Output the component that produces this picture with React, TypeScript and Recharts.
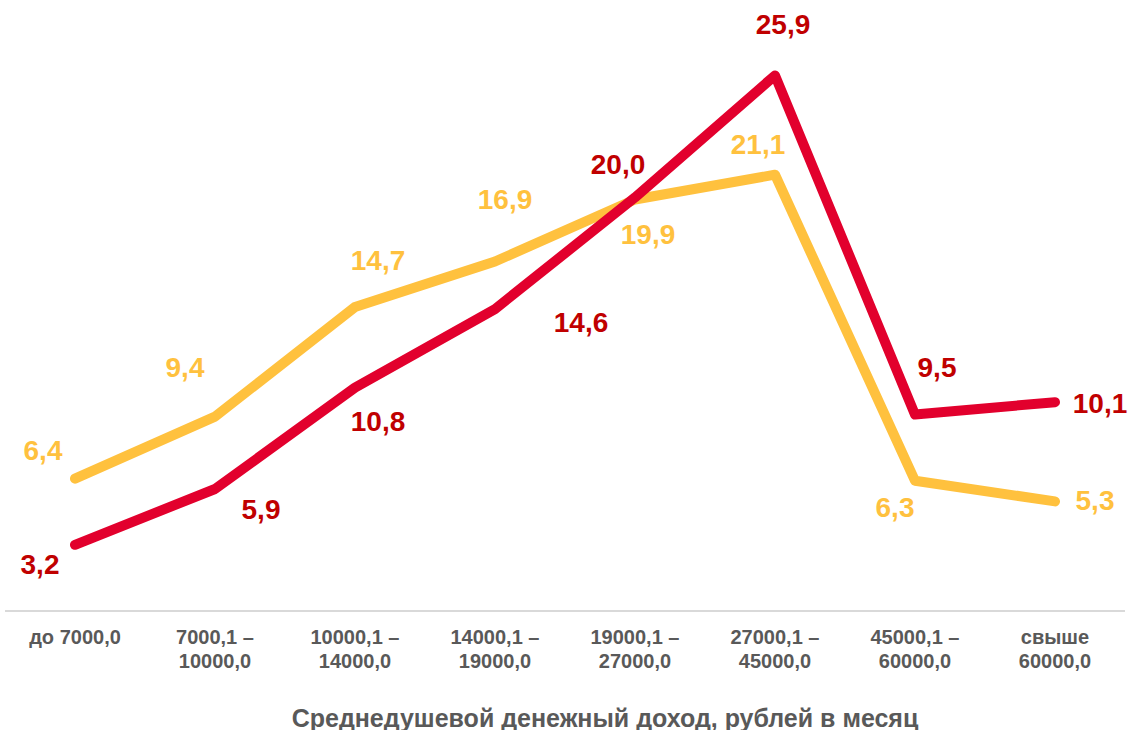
import React from "react";
import { LineChart, Line, XAxis, YAxis, LabelList } from "recharts";

const categories = [
  "до 7000,0",
  "7000,1 –\n10000,0",
  "10000,1 –\n14000,0",
  "14000,1 –\n19000,0",
  "19000,1 –\n27000,0",
  "27000,1 –\n45000,0",
  "45000,1 –\n60000,0",
  "свыше\n60000,0",
];
const redValues = [3.2, 5.9, 10.8, 14.6, 20.0, 25.9, 9.5, 10.1];
const yellowValues = [6.4, 9.4, 14.7, 16.9, 19.9, 21.1, 6.3, 5.3];

// label offsets from the point (px), hand placed to match the source
const redLabelOffsets = [
  [-35, 20], [46, 21], [23, 34], [86, 13], [-17, -33], [8, -51], [22, -47], [45, 1],
];
const yellowLabelOffsets = [
  [-32, -28], [-30, -49], [23, -47], [10, -62], [13, 35], [-17, -30], [-20, 27], [40, -1],
];

const data = categories.map((cat, i) => ({
  category: cat,
  red: redValues[i],
  yellow: yellowValues[i],
}));

const FONT = "'Liberation Sans', Arial, sans-serif";
const RED_LINE = "#E2002D";
const RED_TEXT = "#C00000";
const YELLOW = "#FFC13E";
const GREY = "#595959";

const fmt = (v: number) => v.toFixed(1).replace(".", ",");

const makeLabel = (offsets: number[][], color: string) => (props: any) => {
  const { x, y, index, value } = props;
  const [dx, dy] = offsets[index] || [0, -20];
  return (
    <text
      x={x + dx}
      y={y + dy}
      textAnchor="middle"
      dominantBaseline="central"
      fill={color}
      fontFamily={FONT}
      fontWeight="bold"
      fontSize={28}
    >
      {fmt(Number(value))}
    </text>
  );
};

const CategoryTick = (props: any) => {
  const { x, y, payload } = props;
  const lines = String(payload.value).split("\n");
  return (
    <text
      x={x}
      y={y}
      textAnchor="middle"
      fill={GREY}
      fontFamily={FONT}
      fontWeight="bold"
      fontSize={20}
    >
      {lines.map((ln, i) => (
        <tspan key={i} x={x} dy={i === 0 ? 33 : 24}>
          {ln}
        </tspan>
      ))}
    </text>
  );
};

export default function App() {
  return (
    <div style={{ position: "absolute", left: 0, top: 0, width: 1135, height: 730, background: "#fff" }}>
      <LineChart
        width={1135}
        height={730}
        data={data}
        margin={{ top: 32, right: 10, left: 5, bottom: 59 }}
      >
        <XAxis
          dataKey="category"
          interval={0}
          height={60}
          padding={{ left: 70, right: 70 }}
          tickLine={false}
          tickSize={0}
          tickMargin={0}
          axisLine={{ stroke: "#D9D9D9", strokeWidth: 2 }}
          tick={<CategoryTick />}
        />
        <YAxis hide domain={[0, 28]} />
        <Line
          dataKey="yellow"
          stroke={YELLOW}
          strokeWidth={10}
          strokeLinecap="round"
          strokeLinejoin="round"
          dot={false}
          isAnimationActive={false}
        >
          <LabelList dataKey="yellow" content={makeLabel(yellowLabelOffsets, YELLOW)} />
        </Line>
        <Line
          dataKey="red"
          stroke={RED_LINE}
          strokeWidth={10}
          strokeLinecap="round"
          strokeLinejoin="round"
          dot={false}
          isAnimationActive={false}
        >
          <LabelList dataKey="red" content={makeLabel(redLabelOffsets, RED_TEXT)} />
        </Line>
      </LineChart>
      <div
        style={{
          position: "absolute",
          left: 0,
          width: 1210,
          top: 703,
          textAlign: "center",
          fontFamily: FONT,
          fontWeight: "bold",
          fontSize: 25,
          color: GREY,
          lineHeight: "30px",
        }}
      >
        Среднедушевой денежный доход, рублей в месяц
      </div>
    </div>
  );
}
